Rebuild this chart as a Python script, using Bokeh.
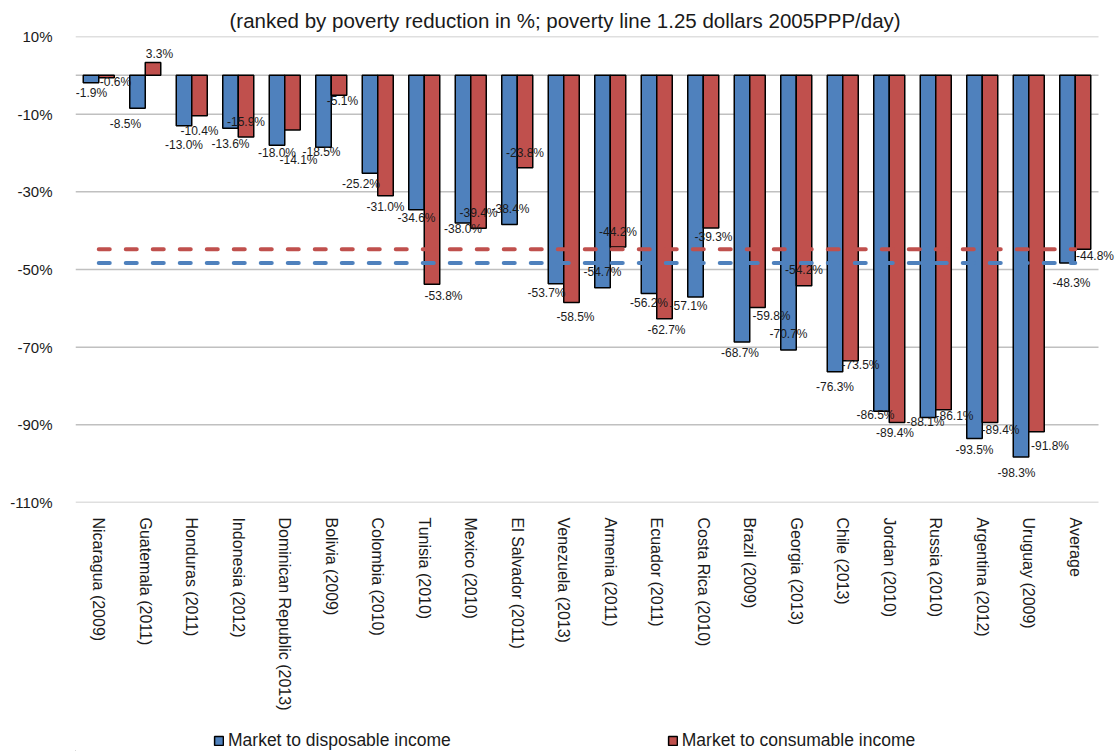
import math
from bokeh.plotting import figure
from bokeh.layouts import column
from bokeh.models import (ColumnDataSource, Range1d, FixedTicker, PrintfTickFormatter,
                          Legend, LegendItem, Title)
from bokeh.core.properties import value
from bokeh.embed import file_html
from bokeh.resources import INLINE

# ---- data -------------------------------------------------------------
countries = [
    "Nicaragua (2009)", "Guatemala (2011)", "Honduras (2011)", "Indonesia (2012)",
    "Dominican Republic (2013)", "Bolivia (2009)", "Colombia (2010)", "Tunisia (2010)",
    "Mexico (2010)", "El Salvador (2011)", "Venezuela (2013)", "Armenia (2011)",
    "Ecuador (2011)", "Costa Rica (2010)", "Brazil (2009)", "Georgia (2013)",
    "Chile (2013)", "Jordan (2010)", "Russia (2010)", "Argentina (2012)",
    "Uruguay (2009)", "Average",
]
market_to_disposable = [
    -1.9, -8.5, -13.0, -13.6, -18.0, -18.5, -25.2, -34.6, -38.0, -38.4, -53.7,
    -54.7, -56.2, -57.1, -68.7, -70.7, -76.3, -86.5, -88.1, -93.5, -98.3, -48.3,
]
market_to_consumable = [
    -0.6, 3.3, -10.4, -15.9, -14.1, -5.1, -31.0, -53.8, -39.4, -23.8, -58.5,
    -44.2, -62.7, -39.3, -59.8, -54.2, -73.5, -89.4, -86.1, -89.4, -91.8, -44.8,
]
series_names = ["Market to disposable income", "Market to consumable income"]
y_ticks = [10, -10, -30, -50, -70, -90, -110]

# ---- label nudges (screen px: dx right, dy down from the bar end) -------
disp_dx = [0.5, -12, 0, 0, 0, -2, -9, 0, 0, 1, -9.5, 0, 0, -7, -2, 0, 0, -6, -2.5, 0, -4.5, 4]
disp_dy = [10.3, 16, 19, 15.5, 7.5, 5, 11, 8, 6, -15, 9, -16, 9, 9, 11, -16, 15, 4, 5, 12, 16, 20]
cons_dx = [9, 6.5, 0, 0, 6, 3.5, 0, 11.5, 0, 0, 4, 0, 2, 2.5, 14, 0, 10, -2, 11, 10.5, 13.5, 12]
cons_dy = [4.5, -9, 15, -15, 30, 6, 11, 12, -15, -15, 14, -15, 11.5, 9, 8, -16, 4.5, 10, 6, 7, 14, 7]

BLUE = "#4F81BD"
RED = "#C0504D"
GRID = "#C0C0C0"
INK = "#1a1a1a"
FONT = "Liberation Sans"

n = len(countries)
PAGE_W = 1115
PLOT_W = 1023          # width of the category area
LEFT = 75
EXTRA_RIGHT = PAGE_W - LEFT - PLOT_W   # room for the last value label
FRAME_H = 466
TOP = 36
BOTTOM = 226
LEGEND_H = 23
Y_MIN, Y_MAX = -110, 10
px_x = PLOT_W / n
px_y = FRAME_H / (Y_MAX - Y_MIN)
bar_w = 1 / 3

xs = list(range(n))
x_left, x_right = -0.5, n - 0.5
x_disp = [x - bar_w / 2 for x in xs]
x_cons = [x + bar_w / 2 for x in xs]

def fmt(v):
    return f"{v:.1f}%"

src_disp = ColumnDataSource(dict(
    x=x_disp, top=market_to_disposable,
    lx=[x + dx / px_x for x, dx in zip(x_disp, disp_dx)],
    ly=[v - dy / px_y for v, dy in zip(market_to_disposable, disp_dy)],
    txt=[fmt(v) for v in market_to_disposable],
))
src_cons = ColumnDataSource(dict(
    x=x_cons, top=market_to_consumable,
    lx=[x + dx / px_x for x, dx in zip(x_cons, cons_dx)],
    ly=[v - dy / px_y for v, dy in zip(market_to_consumable, cons_dy)],
    txt=[fmt(v) for v in market_to_consumable],
))

p = figure(
    frame_width=PLOT_W + EXTRA_RIGHT, frame_height=FRAME_H,
    x_range=Range1d(x_left, x_right + EXTRA_RIGHT / px_x), y_range=Range1d(Y_MIN, Y_MAX),
    output_backend="svg", toolbar_location=None,
    min_border_left=LEFT, min_border_right=0, min_border_top=TOP, min_border_bottom=BOTTOM,
)
p.outline_line_color = None
p.background_fill_color = "white"
p.border_fill_color = "white"

# title
p.title = Title(text="(ranked by poverty reduction in %; poverty line 1.25 dollars 2005PPP/day)",
                align="left", offset=154, text_font=FONT, text_font_size="20.5px",
                text_font_style="normal", text_color=INK)

# horizontal gridlines (and the zero line) over the category area only
p.xgrid.visible = False
p.ygrid.visible = False
grid_y = y_ticks + [0]
p.segment(x0=[x_left] * len(grid_y), x1=[x_right] * len(grid_y), y0=grid_y, y1=grid_y,
          line_color=GRID, line_width=1.5)

# axes
p.yaxis.ticker = FixedTicker(ticks=y_ticks)
p.yaxis.formatter = PrintfTickFormatter(format="%d%%")
p.yaxis.axis_line_color = None
p.yaxis.major_tick_line_color = None
p.yaxis.minor_tick_line_color = None
p.yaxis.major_label_text_font = FONT
p.yaxis.major_label_text_font_size = "15px"
p.yaxis.major_label_text_color = INK
p.yaxis.major_label_standoff = 17

p.xaxis.ticker = FixedTicker(ticks=xs)
p.xaxis.major_label_overrides = {i: c for i, c in enumerate(countries)}
p.xaxis.major_label_orientation = -math.pi / 2
p.xaxis.axis_line_color = None
p.xaxis.major_tick_line_color = None
p.xaxis.minor_tick_line_color = None
p.xaxis.major_label_text_font = FONT
p.xaxis.major_label_text_font_size = "16px"
p.xaxis.major_label_text_color = INK
p.xaxis.major_label_standoff = 9

# bars
bar_style = dict(width=bar_w, line_color="black", line_width=1.5)
p.vbar(x="x", top="top", bottom=0, source=src_disp, fill_color=BLUE, **bar_style)
p.vbar(x="x", top="top", bottom=0, source=src_cons, fill_color=RED, **bar_style)

# average lines across all categories
avg_disp = market_to_disposable[-1]
avg_cons = market_to_consumable[-1]
p.line(x=[xs[0], xs[-1]], y=[avg_cons, avg_cons], line_color=RED, line_width=4,
       line_dash="11 16", line_cap="round")
p.line(x=[xs[0], xs[-1]], y=[avg_disp, avg_disp], line_color=BLUE, line_width=4,
       line_dash="11 16", line_cap="round")

# value labels
for src in (src_disp, src_cons):
    p.text(x="lx", y="ly", text="txt", source=src, text_font=value(FONT),
           text_font_size="12px", text_color=INK,
           text_align="center", text_baseline="middle")

# ---- legend strip under the chart --------------------------------------
leg = figure(frame_width=PAGE_W, frame_height=LEGEND_H,
             x_range=Range1d(0, 1), y_range=Range1d(0, 1),
             output_backend="svg", toolbar_location=None,
             min_border=0, min_border_left=0, min_border_right=0,
             min_border_top=0, min_border_bottom=0)
leg.axis.visible = False
leg.grid.visible = False
leg.outline_line_color = None
leg.border_fill_color = "white"
# key renderers carry one point well outside the strip's visible range
hidden = dict(x=[-50], top=[-50])
k_disp = leg.vbar(x="x", top="top", bottom=-50, source=ColumnDataSource(hidden),
                  fill_color=BLUE, **bar_style)
k_cons = leg.vbar(x="x", top="top", bottom=-50, source=ColumnDataSource(hidden),
                  fill_color=RED, **bar_style)
legend = Legend(items=[LegendItem(label=series_names[0], renderers=[k_disp]),
                       LegendItem(label=series_names[1], renderers=[k_cons])],
                location=(213, 0), orientation="horizontal",
                glyph_width=11, glyph_height=11, label_standoff=4,
                padding=0, margin=0, spacing=216,
                border_line_alpha=0, background_fill_alpha=0,
                label_text_font=FONT, label_text_font_size="17.5px",
                label_text_color=INK)
leg.add_layout(legend, "center")

open("out.html", "w").write(file_html(column(p, leg, spacing=0), INLINE))
